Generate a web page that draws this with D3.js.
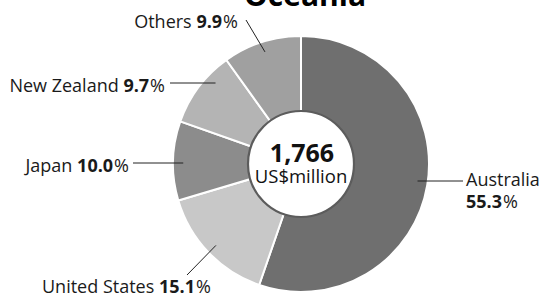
<!DOCTYPE html>
<html>
<head>
<meta charset="utf-8">
<script src="https://cdn.jsdelivr.net/npm/d3@7"></script>
<style>
  html, body { margin: 0; padding: 0; background: #fff; }
  svg { display: block; font-family: "Open Sans", sans-serif; }
</style>
</head>
<body>
<svg id="chart" width="542" height="298"></svg>
<script>
// data
var countries = ['Australia', 'United States', 'Japan', 'New Zealand', 'Others'];
var shares = [55.3, 15.1, 10.0, 9.7, 9.9];
var colours = ['#6f6f6f', '#c8c8c8', '#8c8c8c', '#b4b4b4', '#a0a0a0'];
var title = 'Oceania';
var total = '1,766';
var unit = 'US$million';

var width = 542, height = 298;
var cx = 301, cy = 164;
var outerR = 128, innerR = 52;
var labelSize = '18px';

var svg = d3.select('svg#chart');

var pie = d3.pie().sort(null).value(function(d){ return d; });
var arcs = pie(shares);
var arc = d3.arc().innerRadius(0).outerRadius(outerR);

var g = svg.append('g').attr('transform', 'translate(' + cx + ',' + cy + ')');

g.selectAll('path.slice')
    .data(arcs)
    .enter().append('path')
    .attr('class', 'slice')
    .attr('d', arc)
    .style('fill', function(d, i){ return colours[i]; })
    .style('stroke', '#fff')
    .style('stroke-width', 2);

// hole in the middle
g.append('circle')
    .attr('r', innerR + 1)
    .style('fill', '#fff')
    .style('stroke', '#5c5c5c')
    .style('stroke-width', 2.2);

// label layout: where the text sits and how the leader runs
// 'h' = horizontal leader at label height, 'd' = leader along the slice middle
var layout = [
    {x: 466, y: 186, anchor: 'start', lead: 'h', lineY: 181, end: 463, twoLines: true},
    {x: 42, y: 293, anchor: 'start', lead: 'd', endX: 187, endY: 275},
    {x: 129, y: 171.5, anchor: 'end', lead: 'h', lineY: 163, end: 133},
    {x: 165, y: 91.5, anchor: 'end', lead: 'h', lineY: 83, end: 170},
    {x: 238, y: 28, anchor: 'end', lead: 'd', endX: 246, endY: 20}
];

var leadR = outerR * 0.92;

arcs.forEach(function(a, i){
    var L = layout[i];
    var x1, y1, x2, y2;
    if(L.lead === 'h'){
        var dy = L.lineY - cy;
        var dx = Math.sqrt(leadR * leadR - dy * dy);
        var mid = (a.startAngle + a.endAngle) / 2;
        x1 = cx + (Math.sin(mid) >= 0 ? dx : -dx);
        y1 = L.lineY;
        x2 = L.end; y2 = L.lineY;
    }
    else{
        var p = d3.pointRadial((a.startAngle + a.endAngle) / 2, leadR);
        x1 = cx + p[0]; y1 = cy + p[1];
        x2 = L.endX; y2 = L.endY;
    }
    svg.append('line')
        .attr('x1', x1).attr('y1', y1)
        .attr('x2', x2).attr('y2', y2)
        .style('stroke', '#222')
        .style('stroke-width', 1);

    var t = svg.append('text')
        .attr('x', L.x).attr('y', L.y)
        .attr('text-anchor', L.anchor)
        .style('font-size', labelSize)
        .style('fill', '#1a1a1a');
    if(L.twoLines){
        t.append('tspan').text(countries[i]);
        var t2 = svg.append('text')
            .attr('x', L.x).attr('y', L.y + 22)
            .attr('text-anchor', L.anchor)
            .style('font-size', labelSize)
            .style('fill', '#1a1a1a');
        t2.append('tspan').style('font-weight', 'bold').text(shares[i].toFixed(1));
        t2.append('tspan').attr('dx', 1).text('%');
    }
    else{
        t.append('tspan').text(countries[i] + ' ');
        t.append('tspan').style('font-weight', 'bold').text(shares[i].toFixed(1));
        t.append('tspan').attr('dx', 1).text('%');
    }
});

// centre text
svg.append('text')
    .attr('x', cx + 1).attr('y', cy - 2)
    .attr('text-anchor', 'middle')
    .style('font-size', '25px')
    .style('font-weight', 'bold')
    .style('fill', '#111')
    .text(total);
svg.append('text')
    .attr('x', cx).attr('y', cy + 19)
    .attr('text-anchor', 'middle')
    .style('font-size', '18.5px')
    .style('fill', '#111')
    .text(unit);

// title, clipped at the top like the original
svg.append('text')
    .attr('x', 305).attr('y', 6)
    .attr('text-anchor', 'middle')
    .style('font-size', '30px')
    .style('font-weight', 'bold')
    .style('fill', '#000')
    .text(title);
</script>
</body>
</html>
